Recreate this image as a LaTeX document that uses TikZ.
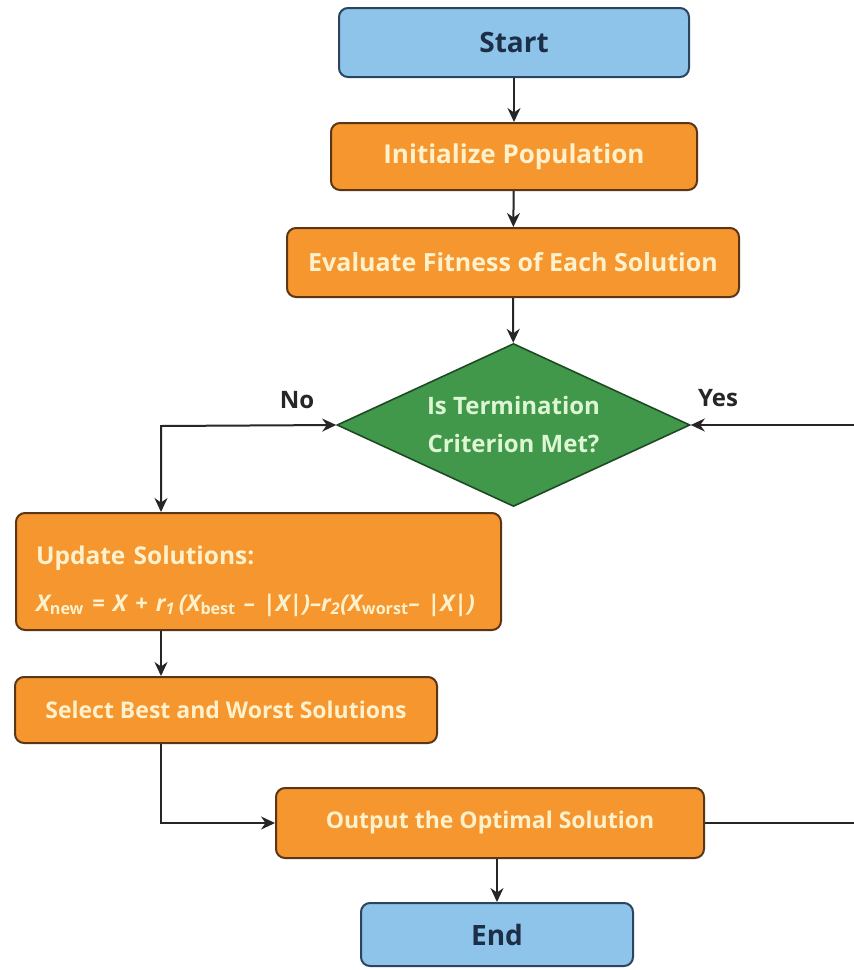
\documentclass[tikz,border=0pt]{standalone}
\usepackage{fontspec}
\setmainfont{Open Sans}
\usetikzlibrary{shapes.geometric,arrows.meta,calc}
\definecolor{orfill}{HTML}{F5962F}
\definecolor{orline}{HTML}{5A3516}
\definecolor{ortext}{HTML}{FFF1CC}
\definecolor{blfill}{HTML}{8EC4EA}
\definecolor{blline}{HTML}{2B4460}
\definecolor{bltext}{HTML}{1C2E48}
\definecolor{grfill}{HTML}{41984A}
\definecolor{grline}{HTML}{1E4A24}
\definecolor{grtext}{HTML}{DDF6D4}
\definecolor{conn}{HTML}{262626}
\newcommand{\fs}[1]{\fontsize{#1}{#1}\selectfont}
\begin{document}
\begin{tikzpicture}[x=1pt,y=-1pt,
  box/.style={rectangle,rounded corners=9pt,line width=2pt,inner sep=0pt,font=\bfseries\fs{25}},
  orbox/.style={box,draw=orline,fill=orfill,text=ortext},
  blbox/.style={box,draw=blline,fill=blfill,text=bltext,font=\bfseries\fs{28}},
  decbox/.style={diamond,shape aspect=2.17,draw=grline,fill=grfill,text=grtext,line width=1.6pt,inner sep=0pt,align=center,font=\bfseries\fontsize{24}{38}\selectfont},
  lab/.style={text=conn,font=\bfseries\fs{24},inner sep=0pt},
  tip/.tip={Stealth[length=14pt,width=13pt]},
  flow/.style={draw=conn,line width=2pt,-tip},
  both/.style={draw=conn,line width=2pt,tip-tip}
]
\useasboundingbox (0,0) rectangle (854,970);
\fill[white] (0,0) rectangle (854,970);

\node[blbox,minimum width=350pt,minimum height=69pt] (start) at (514,42.5) {Start};
\node[orbox,minimum width=366pt,minimum height=67pt,font=\bfseries\fs{26}] (init) at (514,156.5) {Initialize Population};
\node[orbox,minimum width=452pt,minimum height=69pt] (eval) at (513,262.5) {Evaluate Fitness of Each Solution};
\node[decbox,minimum width=353pt,minimum height=163pt] (dec) at (513.5,425) {Is Termination\\Criterion Met?};
\node[orbox,minimum width=485pt,minimum height=117pt,text width=445pt,align=left,font=\bfseries\fs{24.5}] (update) at (258.5,571.5)
  {\rule{0pt}{38pt}Update Solutions:\\[22pt]
   \mbox{\fs{23}\itshape X\textsubscript{\upshape new} = X + r\textsubscript{1}\,(X\textsubscript{\upshape best} -- |X|)--r\textsubscript{2}(X\textsubscript{\upshape worst}-- |X|)}};
\node[orbox,minimum width=422pt,minimum height=66pt,font=\bfseries\fs{23}] (select) at (226,710) {Select Best and Worst Solutions};
\node[orbox,minimum width=428pt,minimum height=70pt,font=\bfseries\fs{23}] (output) at (490,823) {Output the Optimal Solution};
\node[blbox,minimum width=272pt,minimum height=63pt] (end) at (497,934.5) {End};

\node[lab] (no) at (297,400) {No};
\node[lab] (yes) at (718,398) {Yes};

\coordinate (noturn) at (161,426);
\coordinate (yesturn) at (860,425);

\draw[flow] (start) -- (init);
\draw[flow] (init) -- (eval);
\draw[flow] (eval) -- (dec);
\draw[both] (dec.west) -- (noturn) -- (update.north -| noturn);
\draw[flow] (update.south -| noturn) -- (select.north -| noturn);
\draw[flow] (select.south -| noturn) |- (output.west);
\draw[flow] (output.south -| end.north) -- (end.north);
\draw[flow] (output.east) -| (yesturn) -- (dec.east);
\end{tikzpicture}
\end{document}
